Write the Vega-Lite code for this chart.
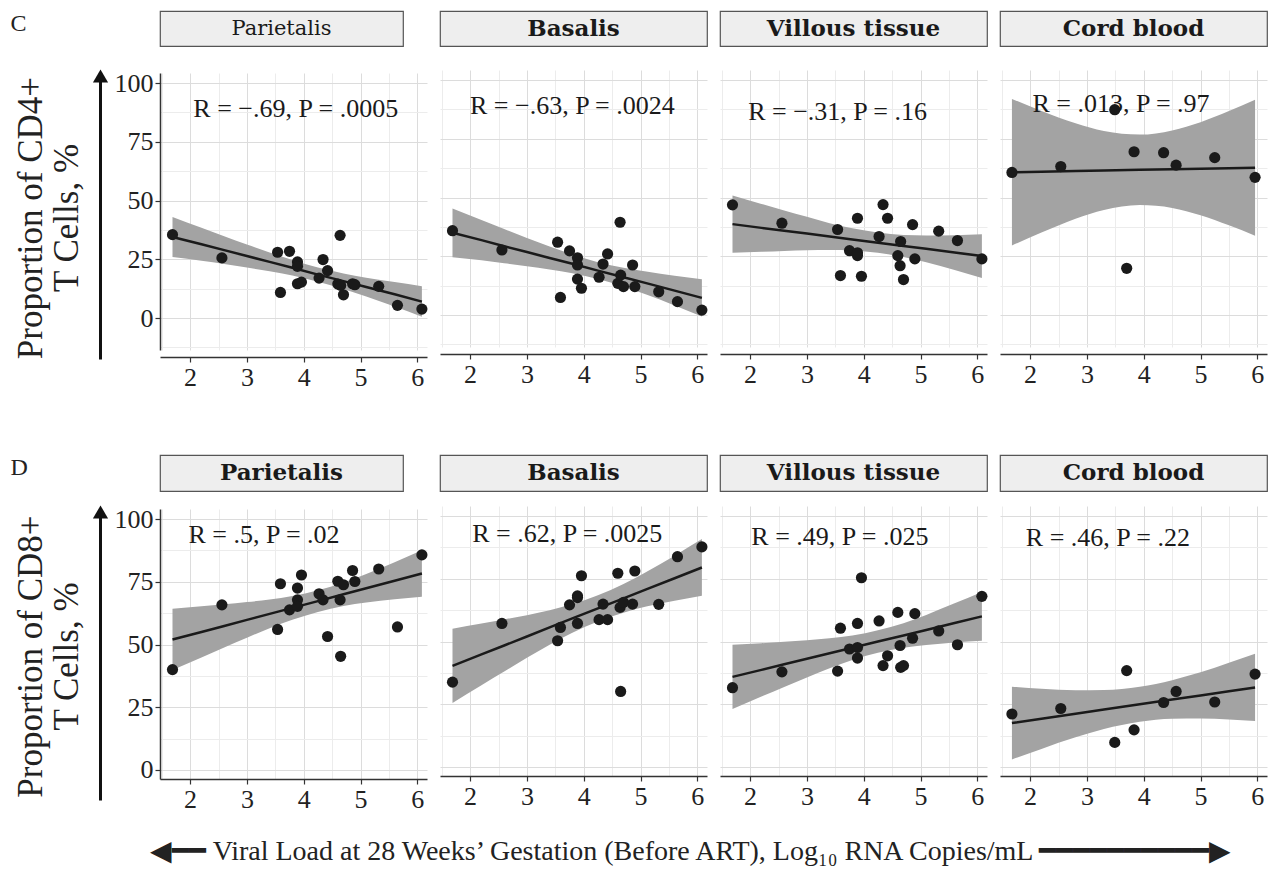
{
"$schema": "https://vega.github.io/schema/vega-lite/v6.json",
"padding": {"top": 8, "left": 10, "right": 5, "bottom": 5},
"background": "white",
"config": {
  "view": {"stroke": null}
},
"datasets": {
  "heads": [
    {"p": "C1", "label": "Parietalis"}, {"p": "C2", "label": "Basalis"}, {"p": "C3", "label": "Villous tissue"}, {"p": "C4", "label": "Cord blood"},
    {"p": "D1", "label": "Parietalis"}, {"p": "D2", "label": "Basalis"}, {"p": "D3", "label": "Villous tissue"}, {"p": "D4", "label": "Cord blood"}
  ],
  "ann": [
    {"p": "C1", "x": 3.86, "y": 89, "label": "R = −.69, P = .0005"},
    {"p": "C2", "x": 3.8, "y": 89, "label": "R = −.63, P = .0024"},
    {"p": "C3", "x": 3.54, "y": 86.5, "label": "R = −.31, P = .16"},
    {"p": "C4", "x": 3.6, "y": 90, "label": "R = .013, P = .97"},
    {"p": "D1", "x": 3.3, "y": 93.6, "label": "R = .5, P = .02"},
    {"p": "D2", "x": 3.71, "y": 93, "label": "R = .62, P = .0025"},
    {"p": "D3", "x": 3.58, "y": 91.5, "label": "R = .49, P = .025"},
    {"p": "D4", "x": 3.37, "y": 91.3, "label": "R = .46, P = .22"}
  ],
  "pts": [
    {"p": "C1", "x": 1.69, "y": 35.5}, {"p": "C1", "x": 2.56, "y": 25.6}, {"p": "C1", "x": 3.54, "y": 28.0}, {"p": "C1", "x": 3.59, "y": 10.9}, {"p": "C1", "x": 3.75, "y": 28.4}, {"p": "C1", "x": 3.89, "y": 23.9}, {"p": "C1", "x": 3.89, "y": 22.0}, {"p": "C1", "x": 3.89, "y": 14.6}, {"p": "C1", "x": 3.96, "y": 15.3}, {"p": "C1", "x": 4.27, "y": 17.0}, {"p": "C1", "x": 4.34, "y": 24.9}, {"p": "C1", "x": 4.42, "y": 20.2}, {"p": "C1", "x": 4.60, "y": 14.5}, {"p": "C1", "x": 4.64, "y": 35.2}, {"p": "C1", "x": 4.65, "y": 13.9}, {"p": "C1", "x": 4.70, "y": 9.9}, {"p": "C1", "x": 4.86, "y": 14.6}, {"p": "C1", "x": 4.90, "y": 14.2}, {"p": "C1", "x": 5.32, "y": 13.5}, {"p": "C1", "x": 5.65, "y": 5.4}, {"p": "C1", "x": 6.08, "y": 3.8},
    {"p": "C2", "x": 1.69, "y": 35.9}, {"p": "C2", "x": 2.56, "y": 27.7}, {"p": "C2", "x": 3.54, "y": 31.0}, {"p": "C2", "x": 3.59, "y": 7.5}, {"p": "C2", "x": 3.75, "y": 27.3}, {"p": "C2", "x": 3.89, "y": 24.4}, {"p": "C2", "x": 3.89, "y": 21.3}, {"p": "C2", "x": 3.89, "y": 15.3}, {"p": "C2", "x": 3.96, "y": 11.4}, {"p": "C2", "x": 4.27, "y": 16.1}, {"p": "C2", "x": 4.34, "y": 21.7}, {"p": "C2", "x": 4.42, "y": 26.0}, {"p": "C2", "x": 4.60, "y": 13.5}, {"p": "C2", "x": 4.64, "y": 39.5}, {"p": "C2", "x": 4.65, "y": 17.0}, {"p": "C2", "x": 4.70, "y": 12.1}, {"p": "C2", "x": 4.86, "y": 21.3}, {"p": "C2", "x": 4.90, "y": 12.1}, {"p": "C2", "x": 5.32, "y": 9.9}, {"p": "C2", "x": 5.65, "y": 5.7}, {"p": "C2", "x": 6.08, "y": 2.1},
    {"p": "C3", "x": 1.69, "y": 46.9}, {"p": "C3", "x": 2.56, "y": 39.1}, {"p": "C3", "x": 3.54, "y": 36.4}, {"p": "C3", "x": 3.59, "y": 16.8}, {"p": "C3", "x": 3.75, "y": 27.4}, {"p": "C3", "x": 3.89, "y": 41.2}, {"p": "C3", "x": 3.89, "y": 25.3}, {"p": "C3", "x": 3.89, "y": 26.5}, {"p": "C3", "x": 3.96, "y": 16.5}, {"p": "C3", "x": 4.27, "y": 33.4}, {"p": "C3", "x": 4.34, "y": 47.0}, {"p": "C3", "x": 4.42, "y": 41.2}, {"p": "C3", "x": 4.60, "y": 25.3}, {"p": "C3", "x": 4.64, "y": 21.0}, {"p": "C3", "x": 4.65, "y": 31.3}, {"p": "C3", "x": 4.70, "y": 15.1}, {"p": "C3", "x": 4.86, "y": 38.5}, {"p": "C3", "x": 4.90, "y": 23.9}, {"p": "C3", "x": 5.32, "y": 35.7}, {"p": "C3", "x": 5.65, "y": 31.7}, {"p": "C3", "x": 6.08, "y": 23.9},
    {"p": "C4", "x": 1.68, "y": 60.7}, {"p": "C4", "x": 2.54, "y": 63.2}, {"p": "C4", "x": 3.49, "y": 87.4}, {"p": "C4", "x": 3.70, "y": 19.9}, {"p": "C4", "x": 3.83, "y": 69.5}, {"p": "C4", "x": 4.35, "y": 69.1}, {"p": "C4", "x": 4.57, "y": 63.8}, {"p": "C4", "x": 5.25, "y": 67.0}, {"p": "C4", "x": 5.96, "y": 58.6},
    {"p": "D1", "x": 1.69, "y": 40.0}, {"p": "D1", "x": 2.56, "y": 65.8}, {"p": "D1", "x": 3.54, "y": 56.0}, {"p": "D1", "x": 3.59, "y": 74.2}, {"p": "D1", "x": 3.75, "y": 63.8}, {"p": "D1", "x": 3.89, "y": 72.5}, {"p": "D1", "x": 3.89, "y": 67.8}, {"p": "D1", "x": 3.89, "y": 65.2}, {"p": "D1", "x": 3.96, "y": 77.7}, {"p": "D1", "x": 4.27, "y": 70.2}, {"p": "D1", "x": 4.34, "y": 67.8}, {"p": "D1", "x": 4.42, "y": 53.2}, {"p": "D1", "x": 4.60, "y": 75.2}, {"p": "D1", "x": 4.64, "y": 67.8}, {"p": "D1", "x": 4.65, "y": 45.3}, {"p": "D1", "x": 4.70, "y": 73.8}, {"p": "D1", "x": 4.86, "y": 79.5}, {"p": "D1", "x": 4.90, "y": 75.1}, {"p": "D1", "x": 5.32, "y": 80.1}, {"p": "D1", "x": 5.65, "y": 57.0}, {"p": "D1", "x": 6.08, "y": 85.7},
    {"p": "D2", "x": 1.69, "y": 33.8}, {"p": "D2", "x": 2.56, "y": 57.2}, {"p": "D2", "x": 3.54, "y": 50.3}, {"p": "D2", "x": 3.59, "y": 55.6}, {"p": "D2", "x": 3.75, "y": 64.6}, {"p": "D2", "x": 3.89, "y": 68.2}, {"p": "D2", "x": 3.89, "y": 57.2}, {"p": "D2", "x": 3.89, "y": 67.5}, {"p": "D2", "x": 3.96, "y": 76.2}, {"p": "D2", "x": 4.27, "y": 58.7}, {"p": "D2", "x": 4.34, "y": 64.9}, {"p": "D2", "x": 4.42, "y": 58.7}, {"p": "D2", "x": 4.60, "y": 77.2}, {"p": "D2", "x": 4.64, "y": 63.6}, {"p": "D2", "x": 4.65, "y": 30.1}, {"p": "D2", "x": 4.70, "y": 65.6}, {"p": "D2", "x": 4.86, "y": 64.9}, {"p": "D2", "x": 4.90, "y": 78.1}, {"p": "D2", "x": 5.32, "y": 64.8}, {"p": "D2", "x": 5.65, "y": 83.8}, {"p": "D2", "x": 6.08, "y": 87.7},
    {"p": "D3", "x": 1.69, "y": 31.6}, {"p": "D3", "x": 2.56, "y": 37.9}, {"p": "D3", "x": 3.54, "y": 38.2}, {"p": "D3", "x": 3.59, "y": 55.3}, {"p": "D3", "x": 3.75, "y": 47.0}, {"p": "D3", "x": 3.89, "y": 57.2}, {"p": "D3", "x": 3.89, "y": 47.6}, {"p": "D3", "x": 3.89, "y": 43.4}, {"p": "D3", "x": 3.96, "y": 75.4}, {"p": "D3", "x": 4.27, "y": 58.2}, {"p": "D3", "x": 4.34, "y": 40.4}, {"p": "D3", "x": 4.42, "y": 44.3}, {"p": "D3", "x": 4.60, "y": 61.6}, {"p": "D3", "x": 4.64, "y": 48.4}, {"p": "D3", "x": 4.65, "y": 39.7}, {"p": "D3", "x": 4.70, "y": 40.4}, {"p": "D3", "x": 4.86, "y": 51.3}, {"p": "D3", "x": 4.90, "y": 61.1}, {"p": "D3", "x": 5.32, "y": 54.2}, {"p": "D3", "x": 5.65, "y": 48.7}, {"p": "D3", "x": 6.08, "y": 68.0},
    {"p": "D4", "x": 1.68, "y": 21.1}, {"p": "D4", "x": 2.54, "y": 23.3}, {"p": "D4", "x": 3.49, "y": 9.8}, {"p": "D4", "x": 3.70, "y": 38.4}, {"p": "D4", "x": 3.83, "y": 14.8}, {"p": "D4", "x": 4.35, "y": 25.7}, {"p": "D4", "x": 4.57, "y": 30.1}, {"p": "D4", "x": 5.25, "y": 25.9}, {"p": "D4", "x": 5.96, "y": 37.0}
  ],
  "band": [
    {"p": "C1", "x": 1.69, "fit": 34.5, "lo": 26.0, "hi": 43.0}, {"p": "C1", "x": 2.2, "fit": 31.4, "lo": 24.4, "hi": 38.4}, {"p": "C1", "x": 2.6, "fit": 28.9, "lo": 23.0, "hi": 34.8}, {"p": "C1", "x": 3.0, "fit": 26.4, "lo": 21.5, "hi": 31.3}, {"p": "C1", "x": 3.4, "fit": 23.9, "lo": 19.9, "hi": 27.9}, {"p": "C1", "x": 3.8, "fit": 21.4, "lo": 18.1, "hi": 24.7}, {"p": "C1", "x": 4.25, "fit": 18.5, "lo": 15.5, "hi": 21.5}, {"p": "C1", "x": 4.7, "fit": 15.7, "lo": 12.4, "hi": 19.0}, {"p": "C1", "x": 5.1, "fit": 13.2, "lo": 9.2, "hi": 17.2}, {"p": "C1", "x": 5.6, "fit": 10.1, "lo": 4.9, "hi": 15.3}, {"p": "C1", "x": 6.08, "fit": 7.0, "lo": 0.5, "hi": 13.5},
    {"p": "C2", "x": 1.69, "fit": 35.0, "lo": 24.6, "hi": 45.4}, {"p": "C2", "x": 2.2, "fit": 31.9, "lo": 23.3, "hi": 40.5}, {"p": "C2", "x": 2.6, "fit": 29.3, "lo": 22.0, "hi": 36.6}, {"p": "C2", "x": 3.0, "fit": 26.8, "lo": 20.8, "hi": 32.8}, {"p": "C2", "x": 3.4, "fit": 24.3, "lo": 19.4, "hi": 29.2}, {"p": "C2", "x": 3.8, "fit": 21.8, "lo": 17.8, "hi": 25.8}, {"p": "C2", "x": 4.25, "fit": 18.9, "lo": 15.3, "hi": 22.5}, {"p": "C2", "x": 4.7, "fit": 16.1, "lo": 12.1, "hi": 20.1}, {"p": "C2", "x": 5.1, "fit": 13.6, "lo": 8.7, "hi": 18.5}, {"p": "C2", "x": 5.6, "fit": 10.4, "lo": 4.1, "hi": 16.7}, {"p": "C2", "x": 6.08, "fit": 7.3, "lo": -0.6, "hi": 15.2},
    {"p": "C3", "x": 1.69, "fit": 38.7, "lo": 26.5, "hi": 50.9}, {"p": "C3", "x": 2.2, "fit": 37.1, "lo": 26.9, "hi": 47.3}, {"p": "C3", "x": 2.6, "fit": 35.9, "lo": 27.3, "hi": 44.5}, {"p": "C3", "x": 3.0, "fit": 34.7, "lo": 27.6, "hi": 41.8}, {"p": "C3", "x": 3.4, "fit": 33.4, "lo": 27.7, "hi": 39.1}, {"p": "C3", "x": 3.8, "fit": 32.2, "lo": 27.5, "hi": 36.9}, {"p": "C3", "x": 4.25, "fit": 30.8, "lo": 26.5, "hi": 35.1}, {"p": "C3", "x": 4.7, "fit": 29.4, "lo": 24.7, "hi": 34.1}, {"p": "C3", "x": 5.1, "fit": 28.2, "lo": 22.5, "hi": 33.9}, {"p": "C3", "x": 5.6, "fit": 26.6, "lo": 19.2, "hi": 34.0}, {"p": "C3", "x": 6.08, "fit": 25.1, "lo": 15.8, "hi": 34.4},
    {"p": "C4", "x": 1.68, "fit": 60.8, "lo": 29.6, "hi": 92.0}, {"p": "C4", "x": 2.2, "fit": 61.0, "lo": 35.1, "hi": 86.9}, {"p": "C4", "x": 2.8, "fit": 61.3, "lo": 41.0, "hi": 81.6}, {"p": "C4", "x": 3.3, "fit": 61.5, "lo": 44.7, "hi": 78.3}, {"p": "C4", "x": 3.93, "fit": 61.8, "lo": 46.8, "hi": 76.8}, {"p": "C4", "x": 4.5, "fit": 62.1, "lo": 45.6, "hi": 78.6}, {"p": "C4", "x": 5.0, "fit": 62.3, "lo": 42.5, "hi": 82.1}, {"p": "C4", "x": 5.5, "fit": 62.5, "lo": 38.2, "hi": 86.8}, {"p": "C4", "x": 5.96, "fit": 62.7, "lo": 33.8, "hi": 91.6},
    {"p": "D1", "x": 1.69, "fit": 52.0, "lo": 39.8, "hi": 64.2}, {"p": "D1", "x": 2.2, "fit": 55.0, "lo": 44.8, "hi": 65.2}, {"p": "D1", "x": 2.6, "fit": 57.4, "lo": 48.8, "hi": 66.0}, {"p": "D1", "x": 3.0, "fit": 59.8, "lo": 52.7, "hi": 66.9}, {"p": "D1", "x": 3.4, "fit": 62.2, "lo": 56.5, "hi": 67.9}, {"p": "D1", "x": 3.8, "fit": 64.6, "lo": 59.9, "hi": 69.3}, {"p": "D1", "x": 4.25, "fit": 67.3, "lo": 63.0, "hi": 71.6}, {"p": "D1", "x": 4.7, "fit": 70.0, "lo": 65.3, "hi": 74.7}, {"p": "D1", "x": 5.1, "fit": 72.4, "lo": 66.7, "hi": 78.1}, {"p": "D1", "x": 5.6, "fit": 75.4, "lo": 68.0, "hi": 82.8}, {"p": "D1", "x": 6.08, "fit": 78.3, "lo": 69.0, "hi": 87.6},
    {"p": "D2", "x": 1.69, "fit": 40.3, "lo": 25.5, "hi": 55.1}, {"p": "D2", "x": 2.2, "fit": 44.9, "lo": 32.6, "hi": 57.2}, {"p": "D2", "x": 2.6, "fit": 48.4, "lo": 38.0, "hi": 58.8}, {"p": "D2", "x": 3.0, "fit": 52.0, "lo": 43.5, "hi": 60.5}, {"p": "D2", "x": 3.4, "fit": 55.6, "lo": 48.7, "hi": 62.5}, {"p": "D2", "x": 3.8, "fit": 59.2, "lo": 53.5, "hi": 64.9}, {"p": "D2", "x": 4.25, "fit": 63.2, "lo": 58.0, "hi": 68.4}, {"p": "D2", "x": 4.7, "fit": 67.2, "lo": 61.5, "hi": 72.9}, {"p": "D2", "x": 5.1, "fit": 70.8, "lo": 63.9, "hi": 77.7}, {"p": "D2", "x": 5.6, "fit": 75.2, "lo": 66.2, "hi": 84.2}, {"p": "D2", "x": 6.08, "fit": 79.5, "lo": 68.2, "hi": 90.8},
    {"p": "D3", "x": 1.69, "fit": 35.9, "lo": 23.1, "hi": 48.7}, {"p": "D3", "x": 2.2, "fit": 38.7, "lo": 28.1, "hi": 49.3}, {"p": "D3", "x": 2.6, "fit": 40.9, "lo": 31.9, "hi": 49.9}, {"p": "D3", "x": 3.0, "fit": 43.1, "lo": 35.7, "hi": 50.5}, {"p": "D3", "x": 3.4, "fit": 45.3, "lo": 39.3, "hi": 51.3}, {"p": "D3", "x": 3.8, "fit": 47.5, "lo": 42.6, "hi": 52.4}, {"p": "D3", "x": 4.25, "fit": 50.0, "lo": 45.5, "hi": 54.5}, {"p": "D3", "x": 4.7, "fit": 52.4, "lo": 47.5, "hi": 57.3}, {"p": "D3", "x": 5.1, "fit": 54.6, "lo": 48.6, "hi": 60.6}, {"p": "D3", "x": 5.6, "fit": 57.4, "lo": 49.6, "hi": 65.2}, {"p": "D3", "x": 6.08, "fit": 60.0, "lo": 50.3, "hi": 69.7},
    {"p": "D4", "x": 1.68, "fit": 17.5, "lo": 3.0, "hi": 32.0}, {"p": "D4", "x": 2.2, "fit": 19.2, "lo": 7.2, "hi": 31.2}, {"p": "D4", "x": 2.8, "fit": 21.2, "lo": 11.8, "hi": 30.6}, {"p": "D4", "x": 3.3, "fit": 22.9, "lo": 15.1, "hi": 30.7}, {"p": "D4", "x": 3.93, "fit": 25.0, "lo": 18.0, "hi": 32.0}, {"p": "D4", "x": 4.5, "fit": 26.9, "lo": 19.2, "hi": 34.6}, {"p": "D4", "x": 5.0, "fit": 28.5, "lo": 19.3, "hi": 37.7}, {"p": "D4", "x": 5.5, "fit": 30.2, "lo": 18.9, "hi": 41.5}, {"p": "D4", "x": 5.96, "fit": 31.7, "lo": 18.3, "hi": 45.1}
  ]
},
"spacing": 62,
"vconcat": [
 {"hconcat": [
   {"vconcat": [
     {"width": 1, "height": 35, "data": {"values": [{"v": 1}]}, "mark": {"type": "point", "opacity": 0},
      "encoding": {"y": {"field": "v", "type": "quantitative", "axis": {"title": "C", "labels": false, "ticks": false, "grid": false, "domain": false, "titleAngle": 0, "titleAnchor": "end", "titleBaseline": "top", "titleAlign": "left", "titleFont": "Liberation Serif", "titleFontSize": 24, "titleFontWeight": "normal", "titleColor": "#222222", "titlePadding": 90}}}},
     {"width": 1, "height": 283, "data": {"values": [{"v": 1}]},
      "mark": {"type": "point", "shape": "triangle-up", "filled": true, "size": 230, "color": "#111111", "opacity": 1},
      "encoding": {"y": {"field": "v", "type": "quantitative", "scale": {"domain": [0, 1]}, "axis": {"title": ["Proportion of CD4+", "T Cells, %"], "labels": false, "ticks": false, "grid": false, "domain": true, "domainColor": "#111111", "domainWidth": 3, "titleFont": "Liberation Serif", "titleFontSize": 35, "titleFontWeight": "normal", "titleColor": "#222222", "titlePadding": 16, "titleLineHeight": 36}}}}
   ], "spacing": 23},
   {"hconcat": [
     {"vconcat": [
       {"width": 243, "height": 35, "view": {"fill": "#eeeeee", "stroke": "#555555", "strokeWidth": 1.2}, "data": {"name": "heads"}, "transform": [{"filter": "datum.p == 'C1'"}],
        "mark": {"type": "text", "font": "DejaVu Serif", "fontSize": 21, "fontWeight": "normal", "color": "#1a1a1a"}, "encoding": {"text": {"field": "label"}}},
       {"width": 267, "height": 277, "resolve": {"axis": {"x": "independent", "y": "independent"}}, "layer": [
         {"data": {"name": "band"}, "transform": [{"filter": "datum.p == 'C1'"}], "mark": {"type": "area", "color": "#a3a3a3", "opacity": 1, "interpolate": "monotone"},
          "encoding": {
            "x": {"field": "x", "type": "quantitative", "title": null, "scale": {"domain": [1.47, 6.17], "nice": false, "zero": false},
                  "axis": {"orient": "bottom", "values": [2, 3, 4, 5, 6], "format": "d", "labelOverlap": false, "labelFlush": false, "labelFont": "Liberation Serif", "labelFontSize": 26, "labelColor": "#222222", "labelPadding": 2, "domainColor": "#333333", "domainWidth": 1.5, "tickColor": "#333333", "tickSize": 5, "tickWidth": 1.2, "grid": true, "gridColor": "#dcdcdc", "gridWidth": 1, "offset": 7, "title": null}},
            "y": {"field": "lo", "type": "quantitative", "title": null, "scale": {"domain": [-13.6, 104.3], "nice": false, "zero": false},
                  "axis": {"orient": "left", "values": [0, 25, 50, 75, 100], "format": "d", "labelOverlap": false, "labelFlush": false, "labelFont": "Liberation Serif", "labelFontSize": 26, "labelColor": "#222222", "labelPadding": 2, "domainColor": "#333333", "domainWidth": 1.5, "tickColor": "#333333", "tickSize": 5, "tickWidth": 1.2, "grid": true, "gridColor": "#dcdcdc", "gridWidth": 1, "title": null}},
            "y2": {"field": "hi"}}},
         {"data": {"name": "band"}, "transform": [{"filter": "datum.p == 'C1'"}], "mark": {"type": "line", "color": "#1a1a1a", "strokeWidth": 2.5},
          "encoding": {
            "x": {"field": "x", "type": "quantitative", "title": null, "axis": {"orient": "bottom", "values": [1.5, 2.5, 3.5, 4.5, 5.5], "labels": false, "ticks": false, "domain": false, "grid": true, "gridColor": "#ececec", "gridWidth": 1, "offset": 7, "title": null, "minExtent": 0, "maxExtent": 0}},
            "y": {"field": "fit", "type": "quantitative", "title": null, "axis": {"orient": "left", "values": [-12.5, 12.5, 37.5, 62.5, 87.5], "labels": false, "ticks": false, "domain": false, "grid": true, "gridColor": "#ececec", "gridWidth": 1, "title": null, "minExtent": 0, "maxExtent": 0}}}},
         {"data": {"name": "pts"}, "transform": [{"filter": "datum.p == 'C1'"}], "mark": {"type": "circle", "color": "#1a1a1a", "size": 125, "opacity": 1},
          "encoding": {"x": {"field": "x", "type": "quantitative", "axis": null}, "y": {"field": "y", "type": "quantitative", "axis": null}}},
         {"data": {"name": "ann"}, "transform": [{"filter": "datum.p == 'C1'"}], "mark": {"type": "text", "font": "Liberation Serif", "fontSize": 26, "color": "#1a1a1a"},
          "encoding": {"x": {"field": "x", "type": "quantitative", "axis": null}, "y": {"field": "y", "type": "quantitative", "axis": null}, "text": {"field": "label"}}}
       ]}
     ], "spacing": 23},
     {"vconcat": [
       {"width": 267, "height": 35, "view": {"fill": "#eeeeee", "stroke": "#555555", "strokeWidth": 1.2}, "data": {"name": "heads"}, "transform": [{"filter": "datum.p == 'C2'"}],
        "mark": {"type": "text", "font": "DejaVu Serif", "fontSize": 23, "fontWeight": "bold", "color": "#1a1a1a"}, "encoding": {"text": {"field": "label"}}},
       {"width": 267, "height": 277, "resolve": {"axis": {"x": "independent", "y": "independent"}}, "layer": [
         {"data": {"name": "band"}, "transform": [{"filter": "datum.p == 'C2'"}], "mark": {"type": "area", "color": "#a3a3a3", "opacity": 1, "interpolate": "monotone"},
          "encoding": {
            "x": {"field": "x", "type": "quantitative", "title": null, "scale": {"domain": [1.47, 6.17], "nice": false, "zero": false},
                  "axis": {"orient": "bottom", "values": [2, 3, 4, 5, 6], "format": "d", "labelOverlap": false, "labelFlush": false, "labelFont": "Liberation Serif", "labelFontSize": 26, "labelColor": "#222222", "labelPadding": 2, "domainColor": "#333333", "domainWidth": 1.5, "tickColor": "#333333", "tickSize": 5, "tickWidth": 1.2, "grid": true, "gridColor": "#dcdcdc", "gridWidth": 1, "offset": 7, "title": null}},
            "y": {"field": "lo", "type": "quantitative", "title": null, "scale": {"domain": [-13.6, 104.3], "nice": false, "zero": false},
                  "axis": {"orient": "left", "values": [0, 25, 50, 75, 100], "labels": false, "ticks": false, "domain": false, "grid": true, "gridColor": "#dcdcdc", "gridWidth": 1, "title": null, "minExtent": 0, "maxExtent": 0}},
            "y2": {"field": "hi"}}},
         {"data": {"name": "band"}, "transform": [{"filter": "datum.p == 'C2'"}], "mark": {"type": "line", "color": "#1a1a1a", "strokeWidth": 2.5},
          "encoding": {
            "x": {"field": "x", "type": "quantitative", "title": null, "axis": {"orient": "bottom", "values": [1.5, 2.5, 3.5, 4.5, 5.5], "labels": false, "ticks": false, "domain": false, "grid": true, "gridColor": "#ececec", "gridWidth": 1, "offset": 7, "title": null, "minExtent": 0, "maxExtent": 0}},
            "y": {"field": "fit", "type": "quantitative", "title": null, "axis": {"orient": "left", "values": [-12.5, 12.5, 37.5, 62.5, 87.5], "labels": false, "ticks": false, "domain": false, "grid": true, "gridColor": "#ececec", "gridWidth": 1, "title": null, "minExtent": 0, "maxExtent": 0}}}},
         {"data": {"name": "pts"}, "transform": [{"filter": "datum.p == 'C2'"}], "mark": {"type": "circle", "color": "#1a1a1a", "size": 125, "opacity": 1},
          "encoding": {"x": {"field": "x", "type": "quantitative", "axis": null}, "y": {"field": "y", "type": "quantitative", "axis": null}}},
         {"data": {"name": "ann"}, "transform": [{"filter": "datum.p == 'C2'"}], "mark": {"type": "text", "font": "Liberation Serif", "fontSize": 26, "color": "#1a1a1a"},
          "encoding": {"x": {"field": "x", "type": "quantitative", "axis": null}, "y": {"field": "y", "type": "quantitative", "axis": null}, "text": {"field": "label"}}}
       ]}
     ], "spacing": 23},
     {"vconcat": [
       {"width": 267, "height": 35, "view": {"fill": "#eeeeee", "stroke": "#555555", "strokeWidth": 1.2}, "data": {"name": "heads"}, "transform": [{"filter": "datum.p == 'C3'"}],
        "mark": {"type": "text", "font": "DejaVu Serif", "fontSize": 23, "fontWeight": "bold", "color": "#1a1a1a"}, "encoding": {"text": {"field": "label"}}},
       {"width": 267, "height": 277, "resolve": {"axis": {"x": "independent", "y": "independent"}}, "layer": [
         {"data": {"name": "band"}, "transform": [{"filter": "datum.p == 'C3'"}], "mark": {"type": "area", "color": "#a3a3a3", "opacity": 1, "interpolate": "monotone"},
          "encoding": {
            "x": {"field": "x", "type": "quantitative", "title": null, "scale": {"domain": [1.47, 6.17], "nice": false, "zero": false},
                  "axis": {"orient": "bottom", "values": [2, 3, 4, 5, 6], "format": "d", "labelOverlap": false, "labelFlush": false, "labelFont": "Liberation Serif", "labelFontSize": 26, "labelColor": "#222222", "labelPadding": 2, "domainColor": "#333333", "domainWidth": 1.5, "tickColor": "#333333", "tickSize": 5, "tickWidth": 1.2, "grid": true, "gridColor": "#dcdcdc", "gridWidth": 1, "offset": 7, "title": null}},
            "y": {"field": "lo", "type": "quantitative", "title": null, "scale": {"domain": [-13.6, 104.3], "nice": false, "zero": false},
                  "axis": {"orient": "left", "values": [0, 25, 50, 75, 100], "labels": false, "ticks": false, "domain": false, "grid": true, "gridColor": "#dcdcdc", "gridWidth": 1, "title": null, "minExtent": 0, "maxExtent": 0}},
            "y2": {"field": "hi"}}},
         {"data": {"name": "band"}, "transform": [{"filter": "datum.p == 'C3'"}], "mark": {"type": "line", "color": "#1a1a1a", "strokeWidth": 2.5},
          "encoding": {
            "x": {"field": "x", "type": "quantitative", "title": null, "axis": {"orient": "bottom", "values": [1.5, 2.5, 3.5, 4.5, 5.5], "labels": false, "ticks": false, "domain": false, "grid": true, "gridColor": "#ececec", "gridWidth": 1, "offset": 7, "title": null, "minExtent": 0, "maxExtent": 0}},
            "y": {"field": "fit", "type": "quantitative", "title": null, "axis": {"orient": "left", "values": [-12.5, 12.5, 37.5, 62.5, 87.5], "labels": false, "ticks": false, "domain": false, "grid": true, "gridColor": "#ececec", "gridWidth": 1, "title": null, "minExtent": 0, "maxExtent": 0}}}},
         {"data": {"name": "pts"}, "transform": [{"filter": "datum.p == 'C3'"}], "mark": {"type": "circle", "color": "#1a1a1a", "size": 125, "opacity": 1},
          "encoding": {"x": {"field": "x", "type": "quantitative", "axis": null}, "y": {"field": "y", "type": "quantitative", "axis": null}}},
         {"data": {"name": "ann"}, "transform": [{"filter": "datum.p == 'C3'"}], "mark": {"type": "text", "font": "Liberation Serif", "fontSize": 26, "color": "#1a1a1a"},
          "encoding": {"x": {"field": "x", "type": "quantitative", "axis": null}, "y": {"field": "y", "type": "quantitative", "axis": null}, "text": {"field": "label"}}}
       ]}
     ], "spacing": 23},
     {"vconcat": [
       {"width": 267, "height": 35, "view": {"fill": "#eeeeee", "stroke": "#555555", "strokeWidth": 1.2}, "data": {"name": "heads"}, "transform": [{"filter": "datum.p == 'C4'"}],
        "mark": {"type": "text", "font": "DejaVu Serif", "fontSize": 23, "fontWeight": "bold", "color": "#1a1a1a"}, "encoding": {"text": {"field": "label"}}},
       {"width": 267, "height": 277, "resolve": {"axis": {"x": "independent", "y": "independent"}}, "layer": [
         {"data": {"name": "band"}, "transform": [{"filter": "datum.p == 'C4'"}], "mark": {"type": "area", "color": "#a3a3a3", "opacity": 1, "interpolate": "monotone"},
          "encoding": {
            "x": {"field": "x", "type": "quantitative", "title": null, "scale": {"domain": [1.47, 6.17], "nice": false, "zero": false},
                  "axis": {"orient": "bottom", "values": [2, 3, 4, 5, 6], "format": "d", "labelOverlap": false, "labelFlush": false, "labelFont": "Liberation Serif", "labelFontSize": 26, "labelColor": "#222222", "labelPadding": 2, "domainColor": "#333333", "domainWidth": 1.5, "tickColor": "#333333", "tickSize": 5, "tickWidth": 1.2, "grid": true, "gridColor": "#dcdcdc", "gridWidth": 1, "offset": 7, "title": null}},
            "y": {"field": "lo", "type": "quantitative", "title": null, "scale": {"domain": [-13.6, 104.3], "nice": false, "zero": false},
                  "axis": {"orient": "left", "values": [0, 25, 50, 75, 100], "labels": false, "ticks": false, "domain": false, "grid": true, "gridColor": "#dcdcdc", "gridWidth": 1, "title": null, "minExtent": 0, "maxExtent": 0}},
            "y2": {"field": "hi"}}},
         {"data": {"name": "band"}, "transform": [{"filter": "datum.p == 'C4'"}], "mark": {"type": "line", "color": "#1a1a1a", "strokeWidth": 2.5},
          "encoding": {
            "x": {"field": "x", "type": "quantitative", "title": null, "axis": {"orient": "bottom", "values": [1.5, 2.5, 3.5, 4.5, 5.5], "labels": false, "ticks": false, "domain": false, "grid": true, "gridColor": "#ececec", "gridWidth": 1, "offset": 7, "title": null, "minExtent": 0, "maxExtent": 0}},
            "y": {"field": "fit", "type": "quantitative", "title": null, "axis": {"orient": "left", "values": [-12.5, 12.5, 37.5, 62.5, 87.5], "labels": false, "ticks": false, "domain": false, "grid": true, "gridColor": "#ececec", "gridWidth": 1, "title": null, "minExtent": 0, "maxExtent": 0}}}},
         {"data": {"name": "pts"}, "transform": [{"filter": "datum.p == 'C4'"}], "mark": {"type": "circle", "color": "#1a1a1a", "size": 125, "opacity": 1},
          "encoding": {"x": {"field": "x", "type": "quantitative", "axis": null}, "y": {"field": "y", "type": "quantitative", "axis": null}}},
         {"data": {"name": "ann"}, "transform": [{"filter": "datum.p == 'C4'"}], "mark": {"type": "text", "font": "Liberation Serif", "fontSize": 26, "color": "#1a1a1a"},
          "encoding": {"x": {"field": "x", "type": "quantitative", "axis": null}, "y": {"field": "y", "type": "quantitative", "axis": null}, "text": {"field": "label"}}}
       ]}
     ], "spacing": 23}
   ], "spacing": 11}
 ], "spacing": 5},
 {"hconcat": [
   {"vconcat": [
     {"width": 1, "height": 36, "data": {"values": [{"v": 1}]}, "mark": {"type": "point", "opacity": 0},
      "encoding": {"y": {"field": "v", "type": "quantitative", "axis": {"title": "D", "labels": false, "ticks": false, "grid": false, "domain": false, "titleAngle": 0, "titleAnchor": "end", "titleBaseline": "top", "titleAlign": "left", "titleFont": "Liberation Serif", "titleFontSize": 24, "titleFontWeight": "normal", "titleColor": "#222222", "titlePadding": 90}}}},
     {"width": 1, "height": 288, "data": {"values": [{"v": 1}]},
      "mark": {"type": "point", "shape": "triangle-up", "filled": true, "size": 230, "color": "#111111", "opacity": 1},
      "encoding": {"y": {"field": "v", "type": "quantitative", "scale": {"domain": [0, 1]}, "axis": {"title": ["Proportion of CD8+", "T Cells, %"], "labels": false, "ticks": false, "grid": false, "domain": true, "domainColor": "#111111", "domainWidth": 3, "titleFont": "Liberation Serif", "titleFontSize": 35, "titleFontWeight": "normal", "titleColor": "#222222", "titlePadding": 16, "titleLineHeight": 36}}}}
   ], "spacing": 14},
   {"title": {"text": "◀━━ Viral Load at 28 Weeks’ Gestation (Before ART), Log₁₀ RNA Copies/mL  ━━━━━━━━━━▶", "orient": "bottom", "anchor": "middle", "font": "Liberation Serif", "fontSize": 28, "fontWeight": "normal", "color": "#222222", "offset": 26},
    "hconcat": [
     {"vconcat": [
       {"width": 243, "height": 36, "view": {"fill": "#eeeeee", "stroke": "#555555", "strokeWidth": 1.2}, "data": {"name": "heads"}, "transform": [{"filter": "datum.p == 'D1'"}],
        "mark": {"type": "text", "font": "DejaVu Serif", "fontSize": 23, "fontWeight": "bold", "color": "#1a1a1a"}, "encoding": {"text": {"field": "label"}}},
       {"width": 267, "height": 270, "resolve": {"axis": {"x": "independent", "y": "independent"}}, "layer": [
         {"data": {"name": "band"}, "transform": [{"filter": "datum.p == 'D1'"}], "mark": {"type": "area", "color": "#a3a3a3", "opacity": 1, "interpolate": "monotone"},
          "encoding": {
            "x": {"field": "x", "type": "quantitative", "title": null, "scale": {"domain": [1.47, 6.17], "nice": false, "zero": false},
                  "axis": {"orient": "bottom", "values": [2, 3, 4, 5, 6], "format": "d", "labelOverlap": false, "labelFlush": false, "labelFont": "Liberation Serif", "labelFontSize": 26, "labelColor": "#222222", "labelPadding": 2, "domainColor": "#333333", "domainWidth": 1.5, "tickColor": "#333333", "tickSize": 5, "tickWidth": 1.2, "grid": true, "gridColor": "#dcdcdc", "gridWidth": 1, "title": null}},
            "y": {"field": "lo", "type": "quantitative", "title": null, "scale": {"domain": [-3.6, 104], "nice": false, "zero": false},
                  "axis": {"orient": "left", "values": [0, 25, 50, 75, 100], "format": "d", "labelOverlap": false, "labelFlush": false, "labelFont": "Liberation Serif", "labelFontSize": 26, "labelColor": "#222222", "labelPadding": 2, "domainColor": "#333333", "domainWidth": 1.5, "tickColor": "#333333", "tickSize": 5, "tickWidth": 1.2, "grid": true, "gridColor": "#dcdcdc", "gridWidth": 1, "title": null}},
            "y2": {"field": "hi"}}},
         {"data": {"name": "band"}, "transform": [{"filter": "datum.p == 'D1'"}], "mark": {"type": "line", "color": "#1a1a1a", "strokeWidth": 2.5},
          "encoding": {
            "x": {"field": "x", "type": "quantitative", "title": null, "axis": {"orient": "bottom", "values": [1.5, 2.5, 3.5, 4.5, 5.5], "labels": false, "ticks": false, "domain": false, "grid": true, "gridColor": "#ececec", "gridWidth": 1, "title": null, "minExtent": 0, "maxExtent": 0}},
            "y": {"field": "fit", "type": "quantitative", "title": null, "axis": {"orient": "left", "values": [12.5, 37.5, 62.5, 87.5], "labels": false, "ticks": false, "domain": false, "grid": true, "gridColor": "#ececec", "gridWidth": 1, "title": null, "minExtent": 0, "maxExtent": 0}}}},
         {"data": {"name": "pts"}, "transform": [{"filter": "datum.p == 'D1'"}], "mark": {"type": "circle", "color": "#1a1a1a", "size": 125, "opacity": 1},
          "encoding": {"x": {"field": "x", "type": "quantitative", "axis": null}, "y": {"field": "y", "type": "quantitative", "axis": null}}},
         {"data": {"name": "ann"}, "transform": [{"filter": "datum.p == 'D1'"}], "mark": {"type": "text", "font": "Liberation Serif", "fontSize": 26, "color": "#1a1a1a"},
          "encoding": {"x": {"field": "x", "type": "quantitative", "axis": null}, "y": {"field": "y", "type": "quantitative", "axis": null}, "text": {"field": "label"}}}
       ]}
     ], "spacing": 14},
     {"vconcat": [
       {"width": 267, "height": 36, "view": {"fill": "#eeeeee", "stroke": "#555555", "strokeWidth": 1.2}, "data": {"name": "heads"}, "transform": [{"filter": "datum.p == 'D2'"}],
        "mark": {"type": "text", "font": "DejaVu Serif", "fontSize": 23, "fontWeight": "bold", "color": "#1a1a1a"}, "encoding": {"text": {"field": "label"}}},
       {"width": 267, "height": 270, "resolve": {"axis": {"x": "independent", "y": "independent"}}, "layer": [
         {"data": {"name": "band"}, "transform": [{"filter": "datum.p == 'D2'"}], "mark": {"type": "area", "color": "#a3a3a3", "opacity": 1, "interpolate": "monotone"},
          "encoding": {
            "x": {"field": "x", "type": "quantitative", "title": null, "scale": {"domain": [1.47, 6.17], "nice": false, "zero": false},
                  "axis": {"orient": "bottom", "values": [2, 3, 4, 5, 6], "format": "d", "labelOverlap": false, "labelFlush": false, "labelFont": "Liberation Serif", "labelFontSize": 26, "labelColor": "#222222", "labelPadding": 2, "domainColor": "#333333", "domainWidth": 1.5, "tickColor": "#333333", "tickSize": 5, "tickWidth": 1.2, "grid": true, "gridColor": "#dcdcdc", "gridWidth": 1, "title": null}},
            "y": {"field": "lo", "type": "quantitative", "title": null, "scale": {"domain": [-3.6, 104], "nice": false, "zero": false},
                  "axis": {"orient": "left", "values": [0, 25, 50, 75, 100], "labels": false, "ticks": false, "domain": false, "grid": true, "gridColor": "#dcdcdc", "gridWidth": 1, "title": null, "minExtent": 0, "maxExtent": 0}},
            "y2": {"field": "hi"}}},
         {"data": {"name": "band"}, "transform": [{"filter": "datum.p == 'D2'"}], "mark": {"type": "line", "color": "#1a1a1a", "strokeWidth": 2.5},
          "encoding": {
            "x": {"field": "x", "type": "quantitative", "title": null, "axis": {"orient": "bottom", "values": [1.5, 2.5, 3.5, 4.5, 5.5], "labels": false, "ticks": false, "domain": false, "grid": true, "gridColor": "#ececec", "gridWidth": 1, "title": null, "minExtent": 0, "maxExtent": 0}},
            "y": {"field": "fit", "type": "quantitative", "title": null, "axis": {"orient": "left", "values": [12.5, 37.5, 62.5, 87.5], "labels": false, "ticks": false, "domain": false, "grid": true, "gridColor": "#ececec", "gridWidth": 1, "title": null, "minExtent": 0, "maxExtent": 0}}}},
         {"data": {"name": "pts"}, "transform": [{"filter": "datum.p == 'D2'"}], "mark": {"type": "circle", "color": "#1a1a1a", "size": 125, "opacity": 1},
          "encoding": {"x": {"field": "x", "type": "quantitative", "axis": null}, "y": {"field": "y", "type": "quantitative", "axis": null}}},
         {"data": {"name": "ann"}, "transform": [{"filter": "datum.p == 'D2'"}], "mark": {"type": "text", "font": "Liberation Serif", "fontSize": 26, "color": "#1a1a1a"},
          "encoding": {"x": {"field": "x", "type": "quantitative", "axis": null}, "y": {"field": "y", "type": "quantitative", "axis": null}, "text": {"field": "label"}}}
       ]}
     ], "spacing": 14},
     {"vconcat": [
       {"width": 267, "height": 36, "view": {"fill": "#eeeeee", "stroke": "#555555", "strokeWidth": 1.2}, "data": {"name": "heads"}, "transform": [{"filter": "datum.p == 'D3'"}],
        "mark": {"type": "text", "font": "DejaVu Serif", "fontSize": 23, "fontWeight": "bold", "color": "#1a1a1a"}, "encoding": {"text": {"field": "label"}}},
       {"width": 267, "height": 270, "resolve": {"axis": {"x": "independent", "y": "independent"}}, "layer": [
         {"data": {"name": "band"}, "transform": [{"filter": "datum.p == 'D3'"}], "mark": {"type": "area", "color": "#a3a3a3", "opacity": 1, "interpolate": "monotone"},
          "encoding": {
            "x": {"field": "x", "type": "quantitative", "title": null, "scale": {"domain": [1.47, 6.17], "nice": false, "zero": false},
                  "axis": {"orient": "bottom", "values": [2, 3, 4, 5, 6], "format": "d", "labelOverlap": false, "labelFlush": false, "labelFont": "Liberation Serif", "labelFontSize": 26, "labelColor": "#222222", "labelPadding": 2, "domainColor": "#333333", "domainWidth": 1.5, "tickColor": "#333333", "tickSize": 5, "tickWidth": 1.2, "grid": true, "gridColor": "#dcdcdc", "gridWidth": 1, "title": null}},
            "y": {"field": "lo", "type": "quantitative", "title": null, "scale": {"domain": [-3.6, 104], "nice": false, "zero": false},
                  "axis": {"orient": "left", "values": [0, 25, 50, 75, 100], "labels": false, "ticks": false, "domain": false, "grid": true, "gridColor": "#dcdcdc", "gridWidth": 1, "title": null, "minExtent": 0, "maxExtent": 0}},
            "y2": {"field": "hi"}}},
         {"data": {"name": "band"}, "transform": [{"filter": "datum.p == 'D3'"}], "mark": {"type": "line", "color": "#1a1a1a", "strokeWidth": 2.5},
          "encoding": {
            "x": {"field": "x", "type": "quantitative", "title": null, "axis": {"orient": "bottom", "values": [1.5, 2.5, 3.5, 4.5, 5.5], "labels": false, "ticks": false, "domain": false, "grid": true, "gridColor": "#ececec", "gridWidth": 1, "title": null, "minExtent": 0, "maxExtent": 0}},
            "y": {"field": "fit", "type": "quantitative", "title": null, "axis": {"orient": "left", "values": [12.5, 37.5, 62.5, 87.5], "labels": false, "ticks": false, "domain": false, "grid": true, "gridColor": "#ececec", "gridWidth": 1, "title": null, "minExtent": 0, "maxExtent": 0}}}},
         {"data": {"name": "pts"}, "transform": [{"filter": "datum.p == 'D3'"}], "mark": {"type": "circle", "color": "#1a1a1a", "size": 125, "opacity": 1},
          "encoding": {"x": {"field": "x", "type": "quantitative", "axis": null}, "y": {"field": "y", "type": "quantitative", "axis": null}}},
         {"data": {"name": "ann"}, "transform": [{"filter": "datum.p == 'D3'"}], "mark": {"type": "text", "font": "Liberation Serif", "fontSize": 26, "color": "#1a1a1a"},
          "encoding": {"x": {"field": "x", "type": "quantitative", "axis": null}, "y": {"field": "y", "type": "quantitative", "axis": null}, "text": {"field": "label"}}}
       ]}
     ], "spacing": 14},
     {"vconcat": [
       {"width": 267, "height": 36, "view": {"fill": "#eeeeee", "stroke": "#555555", "strokeWidth": 1.2}, "data": {"name": "heads"}, "transform": [{"filter": "datum.p == 'D4'"}],
        "mark": {"type": "text", "font": "DejaVu Serif", "fontSize": 23, "fontWeight": "bold", "color": "#1a1a1a"}, "encoding": {"text": {"field": "label"}}},
       {"width": 267, "height": 270, "resolve": {"axis": {"x": "independent", "y": "independent"}}, "layer": [
         {"data": {"name": "band"}, "transform": [{"filter": "datum.p == 'D4'"}], "mark": {"type": "area", "color": "#a3a3a3", "opacity": 1, "interpolate": "monotone"},
          "encoding": {
            "x": {"field": "x", "type": "quantitative", "title": null, "scale": {"domain": [1.47, 6.17], "nice": false, "zero": false},
                  "axis": {"orient": "bottom", "values": [2, 3, 4, 5, 6], "format": "d", "labelOverlap": false, "labelFlush": false, "labelFont": "Liberation Serif", "labelFontSize": 26, "labelColor": "#222222", "labelPadding": 2, "domainColor": "#333333", "domainWidth": 1.5, "tickColor": "#333333", "tickSize": 5, "tickWidth": 1.2, "grid": true, "gridColor": "#dcdcdc", "gridWidth": 1, "title": null}},
            "y": {"field": "lo", "type": "quantitative", "title": null, "scale": {"domain": [-3.6, 104], "nice": false, "zero": false},
                  "axis": {"orient": "left", "values": [0, 25, 50, 75, 100], "labels": false, "ticks": false, "domain": false, "grid": true, "gridColor": "#dcdcdc", "gridWidth": 1, "title": null, "minExtent": 0, "maxExtent": 0}},
            "y2": {"field": "hi"}}},
         {"data": {"name": "band"}, "transform": [{"filter": "datum.p == 'D4'"}], "mark": {"type": "line", "color": "#1a1a1a", "strokeWidth": 2.5},
          "encoding": {
            "x": {"field": "x", "type": "quantitative", "title": null, "axis": {"orient": "bottom", "values": [1.5, 2.5, 3.5, 4.5, 5.5], "labels": false, "ticks": false, "domain": false, "grid": true, "gridColor": "#ececec", "gridWidth": 1, "title": null, "minExtent": 0, "maxExtent": 0}},
            "y": {"field": "fit", "type": "quantitative", "title": null, "axis": {"orient": "left", "values": [12.5, 37.5, 62.5, 87.5], "labels": false, "ticks": false, "domain": false, "grid": true, "gridColor": "#ececec", "gridWidth": 1, "title": null, "minExtent": 0, "maxExtent": 0}}}},
         {"data": {"name": "pts"}, "transform": [{"filter": "datum.p == 'D4'"}], "mark": {"type": "circle", "color": "#1a1a1a", "size": 125, "opacity": 1},
          "encoding": {"x": {"field": "x", "type": "quantitative", "axis": null}, "y": {"field": "y", "type": "quantitative", "axis": null}}},
         {"data": {"name": "ann"}, "transform": [{"filter": "datum.p == 'D4'"}], "mark": {"type": "text", "font": "Liberation Serif", "fontSize": 26, "color": "#1a1a1a"},
          "encoding": {"x": {"field": "x", "type": "quantitative", "axis": null}, "y": {"field": "y", "type": "quantitative", "axis": null}, "text": {"field": "label"}}}
       ]}
     ], "spacing": 14}
   ], "spacing": 11}
 ], "spacing": 5}
]
}
